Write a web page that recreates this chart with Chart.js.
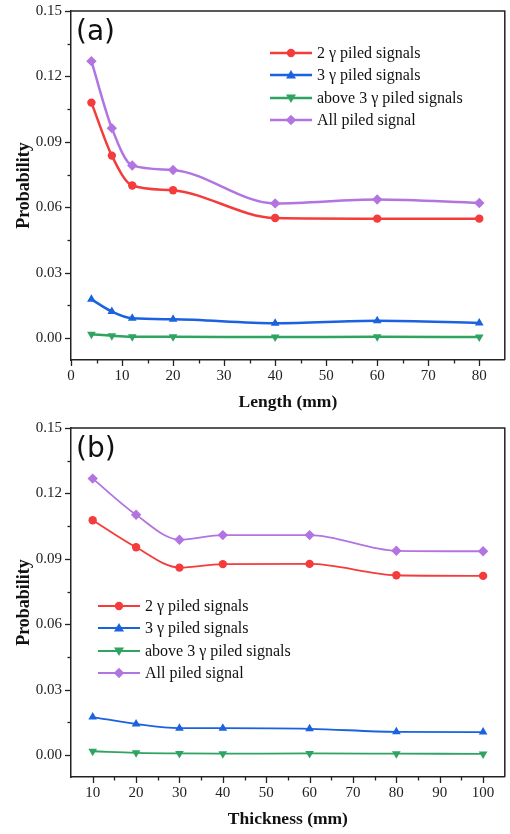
<!DOCTYPE html>
<html>
<head>
<meta charset="utf-8">
<script src="https://cdn.jsdelivr.net/npm/chart.js@4"></script>
<style>
  body{margin:0;background:#fff;width:510px;height:834px;overflow:hidden;}
  .panel{position:relative;width:510px;height:417px;}
  .panel canvas{position:absolute;left:0;top:0;}
  .tag{position:absolute;font-family:"DejaVu Sans",sans-serif;font-size:28px;color:#111;line-height:1;}
  .legend{position:absolute;font-family:"Liberation Serif","Times New Roman",serif;font-size:16px;color:#111;}
  .legend .row{display:flex;align-items:center;height:22.3px;white-space:nowrap;}
  .legend svg{margin-right:5px;}
</style>
</head>
<body>
<div class="panel" id="panelA">
  <canvas id="chartA" width="510" height="417"></canvas>
  <div class="tag" style="left:76px;top:17px;">(a)</div>
  <div class="legend" id="legendA" style="left:270px;top:42px;"></div>
</div>
<div class="panel" id="panelB">
  <canvas id="chartB" width="510" height="417"></canvas>
  <div class="tag" style="left:76px;top:17px;">(b)</div>
  <div class="legend" id="legendB" style="left:98px;top:178px;"></div>
</div>
<script>
// series names and colours
const seriesNames = ['2 \u03b3 piled signals','3 \u03b3 piled signals','above 3 \u03b3 piled signals','All piled signal'];
const seriesColors = ['#f43c3c','#1a62e0','#2fa462','#b274e0'];

// (a) crystal length
const lengthMm = [4, 8, 12, 20, 40, 60, 80];
const twoGammaA = [0.108, 0.0837, 0.0700, 0.0678, 0.0551, 0.0548, 0.0548];
const threeGammaA = [0.0178, 0.0122, 0.0091, 0.0087, 0.0069, 0.0080, 0.0070];
const aboveThreeA = [0.0018, 0.0011, 0.0007, 0.0007, 0.0005, 0.0007, 0.0005];
const allPiledA = [0.1270, 0.0963, 0.0792, 0.0771, 0.0618, 0.0636, 0.0620];

// (b) crystal thickness
const thicknessMm = [10, 20, 30, 40, 60, 80, 100];
const twoGammaB = [0.1077, 0.0953, 0.0860, 0.0876, 0.0877, 0.0825, 0.0822];
const threeGammaB = [0.0175, 0.0143, 0.0124, 0.0124, 0.0121, 0.0107, 0.0106];
const aboveThreeB = [0.0018, 0.0011, 0.0008, 0.0007, 0.0008, 0.0007, 0.0006];
const allPiledB = [0.1268, 0.1102, 0.0988, 0.1009, 0.1009, 0.0937, 0.0935];

// ticks
const yTickValues = [0, 0.015, 0.03, 0.045, 0.06, 0.075, 0.09, 0.105, 0.12, 0.135, 0.15];
const yTickLabels = ['0.00','','0.03','','0.06','','0.09','','0.12','','0.15'];
const xTickValuesA = [0,5,10,15,20,25,30,35,40,45,50,55,60,65,70,75,80];
const xTickLabelsA = ['0','','10','','20','','30','','40','','50','','60','','70','','80'];
const xTickValuesB = [10,15,20,25,30,35,40,45,50,55,60,65,70,75,80,85,90,95,100];
const xTickLabelsB = ['10','','20','','30','','40','','50','','60','','70','','80','','90','','100'];

const pointStyles = ['circle','triangle','triangle','rectRot'];
const pointRotations = [0, 0, 180, 0];
const pointRadii = [4.2, 5, 5, 5.2];

const serif = '"Liberation Serif","Times New Roman",serif';

// box and tick marks (major long, minor short)
const frameTicks = {
  id:'frameTicks',
  afterDraw(chart){
    const ctx = chart.ctx, a = chart.chartArea;
    ctx.save();
    ctx.strokeStyle = '#222';
    ctx.lineWidth = 1.5;
    ctx.beginPath();
    ctx.moveTo(a.left, a.top); ctx.lineTo(a.right, a.top); ctx.lineTo(a.right, a.bottom);
    ctx.stroke();
    ctx.lineWidth = 1.3;
    const xs = chart.scales.x, ys = chart.scales.y;
    xs.ticks.forEach((t, i) => {
      const px = Math.round(xs.getPixelForValue(t.value)) + 0.5;
      const len = xs._labelsAll[i] ? 6 : 3.5;
      ctx.beginPath(); ctx.moveTo(px, a.bottom); ctx.lineTo(px, a.bottom + len); ctx.stroke();
    });
    ys.ticks.forEach((t, i) => {
      const py = Math.round(ys.getPixelForValue(t.value)) + 0.5;
      const len = ys._labelsAll[i] ? 6 : 3.5;
      ctx.beginPath(); ctx.moveTo(a.left, py); ctx.lineTo(a.left - len, py); ctx.stroke();
    });
    ctx.restore();
  }
};

function makeChart(id, xVals, series, xMin, xMax, xTicks, xLabels, xTitle, lineW){
  const datasets = series.map((vals, i) => ({
    label: seriesNames[i],
    data: vals.map((v, j) => ({x: xVals[j], y: v})),
    borderColor: seriesColors[i],
    backgroundColor: seriesColors[i],
    borderWidth: lineW,
    pointStyle: pointStyles[i],
    pointRotation: pointRotations[i],
    pointRadius: pointRadii[i],
    pointBorderWidth: 0,
    cubicInterpolationMode: 'monotone',
    order: 3 - i
  }));
  return new Chart(document.getElementById(id), {
    type: 'line',
    data: {datasets},
    options: {
      responsive: false,
      devicePixelRatio: 1,
      animation: false,
      layout: {padding: {top: 11, right: 5, left: 0, bottom: 0}},
      plugins: {legend: {display: false}, tooltip: {enabled: false}},
      scales: {
        x: {
          type: 'linear', min: xMin, max: xMax,
          afterBuildTicks: s => { s.ticks = xTicks.map(v => ({value: v})); },
          afterTickToLabelConversion: s => { s._labelsAll = s.ticks.map(t => t.label); },
          afterFit: s => { s.height = 57; s.paddingLeft = 0; s.paddingRight = 0; },
          grid: {display: false, drawTicks: false},
          border: {display: true, color: '#222', width: 1.5},
          ticks: {
            autoSkip: false, maxRotation: 0, padding: 7, color: '#222',
            font: {family: serif, size: 15},
            callback: (v, i) => xLabels[i]
          },
          title: {display: true, text: xTitle, color: '#111',
            font: {family: serif, size: 17.5, weight: 'bold'}, padding: {top: 0, bottom: 4}}
        },
        y: {
          min: -0.01, max: 0.15,
          afterBuildTicks: s => { s.ticks = yTickValues.map(v => ({value: v})); },
          afterTickToLabelConversion: s => { s._labelsAll = s.ticks.map(t => t.label); },
          afterFit: s => { s.width = 71; s.paddingTop = 0; s.paddingBottom = 0; },
          grid: {display: false, drawTicks: false},
          border: {display: true, color: '#222', width: 1.5},
          ticks: {
            autoSkip: false, padding: 9, color: '#222',
            font: {family: serif, size: 15},
            callback: (v, i) => yTickLabels[i]
          },
          title: {display: true, text: 'Probability', color: '#111',
            font: {family: serif, size: 18, weight: 'bold'}, padding: {top: 14, bottom: 0}}
        }
      }
    },
    plugins: [frameTicks]
  });
}

function markerSvg(i){
  const c = seriesColors[i], cx = 21, cy = 7;
  if (i === 0) return `<circle cx="${cx}" cy="${cy}" r="4.2" fill="${c}"/>`;
  if (i === 1) return `<polygon points="${cx},${cy-5} ${cx+5},${cy+3.5} ${cx-5},${cy+3.5}" fill="${c}"/>`;
  if (i === 2) return `<polygon points="${cx},${cy+5} ${cx+5},${cy-3.5} ${cx-5},${cy-3.5}" fill="${c}"/>`;
  return `<polygon points="${cx},${cy-5.2} ${cx+5.2},${cy} ${cx},${cy+5.2} ${cx-5.2},${cy}" fill="${c}"/>`;
}

function makeLegend(id, lineW){
  document.getElementById(id).innerHTML = seriesNames.map((name, i) =>
    `<div class="row"><svg width="42" height="14"><line x1="0" y1="7" x2="42" y2="7" stroke="${seriesColors[i]}" stroke-width="${lineW}"/>${markerSvg(i)}</svg><span>${name}</span></div>`
  ).join('');
}

makeChart('chartA', lengthMm, [twoGammaA, threeGammaA, aboveThreeA, allPiledA], 0, 85, xTickValuesA, xTickLabelsA, 'Length (mm)', 2.5);
makeChart('chartB', thicknessMm, [twoGammaB, threeGammaB, aboveThreeB, allPiledB], 5, 105, xTickValuesB, xTickLabelsB, 'Thickness (mm)', 1.8);
makeLegend('legendA', 2.5);
makeLegend('legendB', 1.8);
</script>
</body>
</html>
